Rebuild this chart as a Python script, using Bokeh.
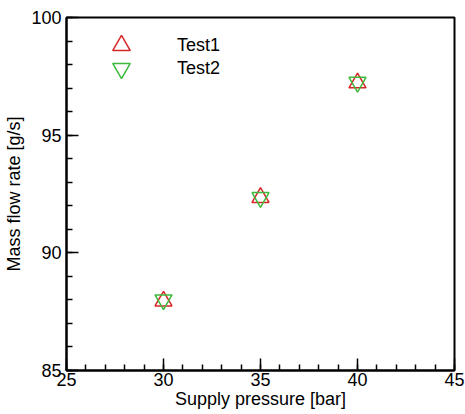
from bokeh.plotting import figure
from bokeh.models import FixedTicker, Legend, LegendItem, Range1d
from bokeh.embed import file_html
from bokeh.resources import INLINE

# Data
pressure = [30, 35, 40]
test1 = [87.95, 92.35, 97.22]
test2 = [88.0, 92.35, 97.25]
x_major = [25, 30, 35, 40, 45]
y_major = [85, 90, 95, 100]
series_names = ["Test1", "Test2"]

FONT = "Liberation Sans"

p = figure(width=465, height=414, output_backend="svg", toolbar_location=None,
           x_range=Range1d(25, 45), y_range=Range1d(85, 100),
           min_border_left=66, min_border_right=11, min_border_top=17, min_border_bottom=44)

p.xgrid.visible = False
p.ygrid.visible = False
p.background_fill_color = "white"
p.border_fill_color = "white"
p.outline_line_color = "black"
p.outline_line_width = 2

p.xaxis.ticker = FixedTicker(ticks=x_major, minor_ticks=list(range(25, 46)))
p.yaxis.ticker = FixedTicker(ticks=y_major, minor_ticks=list(range(85, 101)))

for ax in (p.xaxis, p.yaxis):
    ax.axis_line_width = 2
    ax.axis_line_color = "black"
    ax.major_tick_in = 12
    ax.major_tick_out = 0
    ax.minor_tick_in = 6
    ax.minor_tick_out = 0
    ax.major_tick_line_width = 1.5
    ax.minor_tick_line_width = 1.5
    ax.major_label_text_font = FONT
    ax.major_label_text_font_size = "18px"
    ax.major_label_text_color = "black"
    ax.axis_label_text_font = FONT
    ax.axis_label_text_font_size = "18px"
    ax.axis_label_text_font_style = "normal"
    ax.axis_label_text_color = "black"

p.xaxis.axis_label = "Supply pressure [bar]"
p.yaxis.axis_label = "Mass flow rate [g/s]"
p.xaxis.major_label_standoff = 2
p.xaxis.axis_label_standoff = 0
p.yaxis.major_label_standoff = 5
p.yaxis.axis_label_standoff = 4

r1 = p.scatter(pressure, test1, marker="triangle", size=17, fill_color=None,
               line_color="#d62728", line_width=1.5)
r2 = p.scatter(pressure, test2, marker="inverted_triangle", size=17, fill_color=None,
               line_color="#3cb93c", line_width=1.5)

def make_legend(label, renderer, loc):
    lg = Legend(items=[LegendItem(label=label, renderers=[renderer])])
    lg.border_line_color = None
    lg.background_fill_alpha = 0
    lg.label_text_font = FONT
    lg.label_text_font_size = "18px"
    lg.label_text_color = "black"
    lg.label_standoff = 34
    lg.glyph_width = 44
    lg.glyph_height = 44
    lg.margin = 0
    lg.padding = 0
    lg.label_height = 20
    lg.location = loc
    return lg

p.add_layout(make_legend(series_names[0], r1, (33, 303)), "center")
p.add_layout(make_legend(series_names[1], r2, (33, 280)), "center")

open("out.html", "w").write(file_html(p, INLINE))
